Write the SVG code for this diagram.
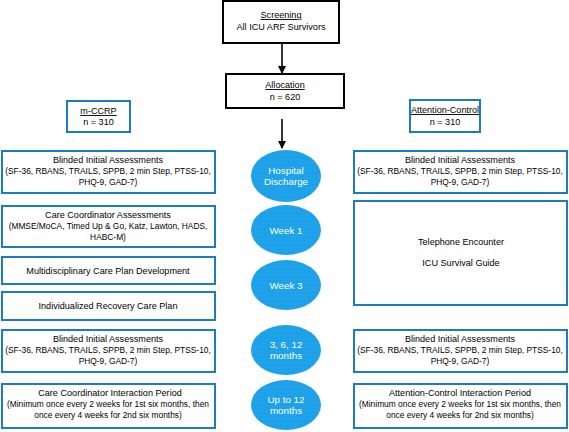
<svg xmlns="http://www.w3.org/2000/svg" width="569" height="432" viewBox="0 0 569 432">
<defs>
<marker id="ah" markerWidth="8" markerHeight="8" refX="7" refY="4" orient="auto" markerUnits="userSpaceOnUse">
<path d="M0,0 L8,4 L0,8 Z" fill="#000"/>
</marker>
<pattern id="dots" width="4" height="4" patternUnits="userSpaceOnUse">
<rect width="4" height="4" fill="#1ea2ea"/>
<circle cx="1" cy="1" r="0.35" fill="#0c6fae"/>
</pattern>
</defs>
<style>
text{font-family:"Liberation Sans",Arial,sans-serif;fill:#000;text-anchor:middle}
.bk{fill:#fff;stroke:#000;stroke-width:2}
.bl{fill:#fff;stroke:#1b7cc0;stroke-width:2}
.el{fill:url(#dots)}
.t{font-size:9.1px}
.s{font-size:8.4px}
.w{font-size:9.8px;fill:#fff}
.u{text-decoration:underline}
.c{stroke:#000;stroke-width:1.6;fill:none}
</style>
<rect width="569" height="432" fill="#fff"/>
<g id="connectors">
<line class="c" x1="282" y1="43" x2="282" y2="73" marker-end="url(#ah)"/>
<line class="c" x1="282" y1="119" x2="282" y2="148" marker-end="url(#ah)"/>
</g>
<g id="screening">
<rect class="bk" x="223" y="1" width="116" height="42"/>
<text class="t u" x="281" y="18">Screening</text>
<text class="t" x="281" y="30">All ICU ARF Survivors</text>
</g>
<g id="allocation">
<rect class="bk" x="226" y="74" width="118" height="34"/>
<text class="t u" x="285" y="88">Allocation</text>
<text class="t" x="285" y="100">n = 620</text>
</g>
<g id="mccrp">
<rect class="bl" x="67" y="101" width="63" height="31"/>
<text class="t u" x="98.5" y="114">m-CCRP</text>
<text class="t" x="98.5" y="125">n = 310</text>
</g>
<g id="attention">
<rect class="bl" x="410" y="100" width="70" height="32"/>
<text class="t u" x="445" y="113">Attention-Control</text>
<text class="t" x="445" y="125">n = 310</text>
</g>
<g id="l1">
<rect class="bl" x="2" y="151" width="213" height="42"/>
<text class="t" x="108" y="163">Blinded Initial Assessments</text>
<text class="s" x="108" y="174">(SF-36, RBANS, TRAILS, SPPB, 2 min Step, PTSS-10,</text>
<text class="s" x="108" y="185">PHQ-9, GAD-7)</text>
</g>
<g id="l2">
<rect class="bl" x="2" y="206" width="213" height="41"/>
<text class="t" x="108" y="218">Care Coordinator Assessments</text>
<text class="s" x="108" y="229">(MMSE/MoCA, Timed Up &amp; Go, Katz, Lawton, HADS,</text>
<text class="s" x="108" y="240">HABC-M)</text>
</g>
<g id="l3">
<rect class="bl" x="2" y="257" width="213" height="27"/>
<text class="t" x="108" y="274">Multidisciplinary Care Plan Development</text>
</g>
<g id="l4">
<rect class="bl" x="2" y="292" width="213" height="28"/>
<text class="t" x="108" y="309">Individualized Recovery Care Plan</text>
</g>
<g id="l5">
<rect class="bl" x="2" y="330" width="213" height="42"/>
<text class="t" x="108" y="342">Blinded Initial Assessments</text>
<text class="s" x="108" y="353">(SF-36, RBANS, TRAILS, SPPB, 2 min Step, PTSS-10,</text>
<text class="s" x="108" y="364">PHQ-9, GAD-7)</text>
</g>
<g id="l6">
<rect class="bl" x="2" y="384" width="213" height="44"/>
<text class="t" x="110" y="396">Care Coordinator Interaction Period</text>
<text class="s" x="108" y="407">(Minimum once every 2 weeks for 1st six months, then</text>
<text class="s" x="108" y="418">once every 4 weeks for 2nd six months)</text>
</g>
<g id="r1">
<rect class="bl" x="354" y="151" width="213" height="42"/>
<text class="t" x="460" y="163">Blinded Initial Assessments</text>
<text class="s" x="460" y="174">(SF-36, RBANS, TRAILS, SPPB, 2 min Step, PTSS-10,</text>
<text class="s" x="460" y="185">PHQ-9, GAD-7)</text>
</g>
<g id="r2">
<rect class="bl" x="354" y="201" width="213" height="104"/>
<text class="t" x="461" y="245">Telephone Encounter</text>
<text class="t" x="461" y="266">ICU Survival Guide</text>
</g>
<g id="r3">
<rect class="bl" x="354" y="330" width="213" height="42"/>
<text class="t" x="460" y="342">Blinded Initial Assessments</text>
<text class="s" x="460" y="353">(SF-36, RBANS, TRAILS, SPPB, 2 min Step, PTSS-10,</text>
<text class="s" x="460" y="364">PHQ-9, GAD-7)</text>
</g>
<g id="r4">
<rect class="bl" x="354" y="384" width="213" height="44"/>
<text class="t" x="460" y="396">Attention-Control Interaction Period</text>
<text class="s" x="460" y="407">(Minimum once every 2 weeks for 1st six months, then</text>
<text class="s" x="460" y="418">once every 4 weeks for 2nd six months)</text>
</g>
<g id="e1">
<ellipse class="el" cx="286" cy="176" rx="35" ry="26"/>
<text class="w" x="286" y="174">Hospital</text>
<text class="w" x="286" y="185">Discharge</text>
</g>
<g id="e2">
<ellipse class="el" cx="286" cy="230" rx="35" ry="25"/>
<text class="w" x="286" y="234">Week 1</text>
</g>
<g id="e3">
<ellipse class="el" cx="286" cy="285" rx="35" ry="25"/>
<text class="w" x="286" y="289">Week 3</text>
</g>
<g id="e4">
<ellipse class="el" cx="286" cy="350" rx="35" ry="25"/>
<text class="w" x="286" y="348">3, 6, 12</text>
<text class="w" x="286" y="359">months</text>
</g>
<g id="e5">
<ellipse class="el" cx="286" cy="405" rx="35" ry="25"/>
<text class="w" x="286" y="403">Up to 12</text>
<text class="w" x="286" y="414">months</text>
</g>
</svg>
